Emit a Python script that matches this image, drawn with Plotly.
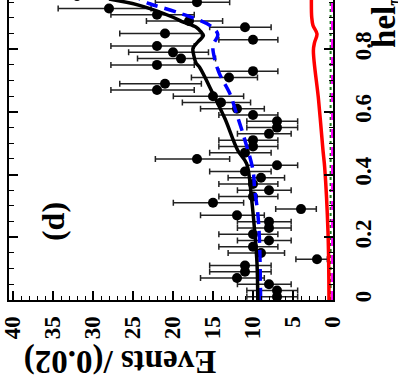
import math
import plotly.graph_objects as go

# ---------------- data ----------------
hel_centers = [0.01, 0.03, 0.05, 0.07, 0.09, 0.11, 0.13, 0.15, 0.17, 0.19,
               0.21, 0.23, 0.25, 0.27, 0.29, 0.31, 0.33, 0.35, 0.37, 0.39,
               0.41, 0.43, 0.45, 0.47, 0.49, 0.51, 0.53, 0.55, 0.57, 0.59,
               0.61, 0.63, 0.65, 0.67, 0.69, 0.71, 0.73, 0.75, 0.77, 0.79,
               0.81, 0.83, 0.85, 0.87, 0.89, 0.91, 0.93, 0.95, 0.97, 0.99]
events = [7, 7, 8, 12, 11, 11, 2, 9, 10, 8,
          10, 8, 8, 12, 4, 15, 10, 8, 10, 9,
          11, 7, 17, 11, 10, 10, 8, 7, 7, 10,
          12, 14, 15, 22, 21, 13, 10, 22, 19, 20,
          22, 10, 21, 11, 18, 22, 28, 17, 32, 25]

total_hel = [0.0, 0.117, 0.222, 0.328, 0.435, 0.477, 0.578, 0.658, 0.743, 0.755,
             0.780, 0.803, 0.823, 0.844, 0.855, 0.870, 0.886, 0.902, 0.940, 0.960]
total_val = [9.4, 9.5, 9.8, 10.2, 10.8, 11.9, 13.5, 15.0, 16.7, 17.1,
             17.4, 17.5, 16.9, 16.2, 16.5, 17.1, 18.7, 20.0, 24.2, 28.0]

sig_hel = [0.0, 0.094, 0.196, 0.276, 0.356, 0.414, 0.509, 0.598, 0.659, 0.722,
           0.770, 0.812, 0.847, 0.876, 0.918, 0.945, 0.960]
sig_val = [9.05, 9.1, 9.2, 9.4, 9.8, 10.0, 11.0, 12.1, 12.9, 14.2,
           14.8, 15.0, 14.4, 15.4, 19.5, 22.9, 24.2]

bkg_hel = [0.0, 0.212, 0.423, 0.477, 0.637, 0.796, 0.822, 0.849, 0.876, 0.902, 0.960]
bkg_val = [0.5, 0.62, 1.04, 1.25, 1.8, 2.45, 2.3, 2.0, 2.5, 2.66, 2.7]

flat_hel = [0.0, 0.96]
magenta_val = [0.12, 0.12]
green_val = [0.3, 0.3]

x_ticks = [0, 5, 10, 15, 20, 25, 30, 35, 40]
y_ticks = [0, 0.2, 0.4, 0.6, 0.8]
y_tick_text = ["0", "0.2", "0.4", "0.6", "0.8"]


# Garwood (Poisson) intervals for error bars, as ROOT draws them
def pois_cdf(k, mu):
    s, term = 0.0, math.exp(-mu)
    for j in range(k + 1):
        if j > 0:
            term *= mu / j
        s += term
    return s


def garwood(n, a=0.158655):
    def bis(f, lo, hi):
        for _ in range(80):
            mid = 0.5 * (lo + hi)
            if f(mid) > 0:
                lo = mid
            else:
                hi = mid
        return 0.5 * (lo + hi)
    low = 0.0 if n == 0 else bis(lambda m: a - (1 - pois_cdf(n - 1, m)), 0.0, n + 50)
    up = bis(lambda m: pois_cdf(n, m) - a, 0.0, n + 60)
    return n - low, up - n


err_lo = [garwood(n)[0] for n in events]
err_hi = [garwood(n)[1] for n in events]

FONT = "Liberation Serif"

fig = go.Figure()
fig.add_trace(go.Scatter(
    x=events, y=hel_centers, mode="markers",
    marker=dict(color="black", size=10),
    error_x=dict(type="data", symmetric=False, array=err_hi, arrayminus=err_lo,
                 color="#222222", thickness=1.5, width=3),
    showlegend=False))
fig.add_trace(go.Scatter(x=green_val, y=flat_hel, mode="lines",
                         line=dict(color="#1a7a1a", width=2, dash="dot"), showlegend=False))
fig.add_trace(go.Scatter(x=magenta_val, y=flat_hel, mode="lines",
                         line=dict(color="#ff00ff", width=2, dash="dash"), showlegend=False))
fig.add_trace(go.Scatter(x=bkg_val, y=bkg_hel, mode="lines", line_shape="spline",
                         line=dict(color="#ff0000", width=3.5), showlegend=False))
fig.add_trace(go.Scatter(x=sig_val, y=sig_hel, mode="lines", line_shape="spline",
                         line=dict(color="#0000ff", width=3.5, dash="12px,7px"), showlegend=False))
fig.add_trace(go.Scatter(x=total_val, y=total_hel, mode="lines", line_shape="spline",
                         line=dict(color="black", width=3.5), showlegend=False))

fig.update_layout(
    width=398, height=392,
    margin=dict(l=9, r=65, t=0, b=92),
    paper_bgcolor="white", plot_bgcolor="white",
    showlegend=False,
    xaxis=dict(range=[40.5, 0], showgrid=False, zeroline=False,
               showline=True, linecolor="black", linewidth=2, mirror=False,
               ticks="inside", ticklen=9, tickwidth=1.5, tickcolor="black",
               tickvals=x_ticks, ticktext=["<b>%d</b>" % t for t in x_ticks],
               tickangle=-90, ticklabelstandoff=5,
               tickfont=dict(family=FONT, size=23, color="black"),
               minor=dict(dtick=1, ticks="inside", ticklen=4.5, tickwidth=1.2, tickcolor="black")),
    yaxis=dict(range=[0, 0.957], side="right", showgrid=False, zeroline=False,
               showline=True, linecolor="black", linewidth=2, mirror="ticks",
               ticks="inside", ticklen=9, tickwidth=1.5, tickcolor="black",
               tickvals=y_ticks, ticktext=["<b>%s</b>" % t for t in y_tick_text],
               tickangle=-90, ticklabelstandoff=8,
               tickfont=dict(family=FONT, size=23, color="black"),
               minor=dict(dtick=0.05, ticks="inside", ticklen=4.5, tickwidth=1.2, tickcolor="black")),
    annotations=[
        dict(text="<b>Events /(0.02)</b>", xref="paper", yref="paper", x=0.343, y=-0.207,
             xanchor="center", yanchor="middle", textangle=180, showarrow=False,
             font=dict(family=FONT, size=33, color="black")),
        dict(text="<b>hel<sub>ππ</sub></b>", xref="paper", yref="paper", x=1.163, y=0.833,
             xanchor="center", yanchor="bottom", textangle=-90, showarrow=False,
             font=dict(family=FONT, size=33, color="black")),
        dict(text="<b>(d)</b>", xref="paper", yref="paper", x=0.136, y=0.26,
             xanchor="center", yanchor="middle", textangle=-90, showarrow=False,
             font=dict(family=FONT, size=32, color="black")),
    ],
)

fig.write_html("out.html")
